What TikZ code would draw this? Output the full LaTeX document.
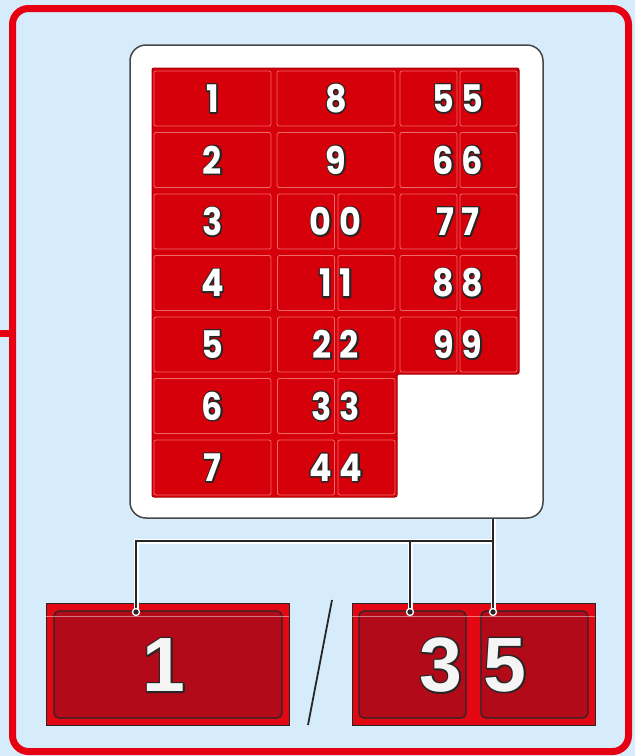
\documentclass[tikz,border=0pt]{standalone}
\usepackage{fontspec}
\newfontfamily\digfont{Poppins}[FakeStretch=0.88]
\newfontfamily\bigfont{Liberation Sans}
\definecolor{bgblue}{HTML}{D6ECFA}
\definecolor{framered}{HTML}{E60012}
\definecolor{cellred}{HTML}{D5000A}
\definecolor{cellline}{HTML}{F26868}
\definecolor{gridline}{HTML}{A8000A}
\definecolor{boxred}{HTML}{E30613}
\definecolor{innerred}{HTML}{B20A18}
\definecolor{inkdark}{HTML}{262626}
\newcommand\olnum[2]{\rlap{\color{inkdark}\special{pdf:literal direct 2 Tr #1 w 1 j}#2\special{pdf:literal direct 0 Tr}}#2}
\begin{document}
\begin{tikzpicture}[x=1pt,y=-1pt,
  panel/.style={draw=inkdark!85, line width=1.5pt, fill=white, rounded corners=16pt, minimum width=413pt, minimum height=473pt, inner sep=0pt},
  cell/.style={draw=cellline, line width=0.8pt, fill=cellred, rounded corners=2pt, minimum height=55pt, inner sep=0pt},
  dig/.style={inner sep=0pt, text=white, font=\digfont\bfseries\fontsize{38}{38}\selectfont},
  outerbox/.style={draw=inkdark, line width=0.8pt, fill=boxred, minimum width=243pt, minimum height=122pt, inner sep=0pt},
  innerbox/.style={draw=inkdark, line width=1.2pt, fill=innerred, rounded corners=5pt, minimum height=107pt, inner sep=0pt},
  bigdig/.style={inner sep=0pt, text=white!96!black, font=\bigfont\bfseries\fontsize{77}{77}\selectfont},
  conn/.style={draw=inkdark, line width=2pt, preaction={draw=white, line width=5pt}},
  dot/.style={circle, fill=inkdark, draw=white, line width=1.3pt, minimum size=7pt, inner sep=0pt}
]
\useasboundingbox (0,0) rectangle (635,756);
\fill[bgblue] (0,0) rectangle (635,756);
% outer frame
\draw[framered, line width=7pt, rounded corners=16pt] (12.5,8.5) rectangle (628.5,751.5);
\draw[framered, line width=7pt] (0,333) -- (12.5,333);
% panel
\node[panel] (panel) at (336.5,281.5) {};
% grid background
\draw[fill=cellred, draw=gridline, line width=1pt, rounded corners=2pt]
  (152,68) -- (519,68) -- (519,374) -- (397,374) -- (397,497) -- (152,497) -- cycle;
% column 1
\foreach \r in {1,...,7}{
  \pgfmathsetmacro{\yc}{98.5+61.5*(\r-1)}
  \node[cell, minimum width=117pt] (a\r) at (212.5,\yc) {};
  \node[dig] (ta\r) at (a\r.center) {\olnum{2.8}{\r}};
}
% column 2 full
\foreach \r/\d in {1/8,2/9}{
  \pgfmathsetmacro{\yc}{98.5+61.5*(\r-1)}
  \node[cell, minimum width=118pt] (b\r) at (336,\yc) {};
  \node[dig] (tb\r) at (b\r.center) {\olnum{2.8}{\d}};
}
% column 2 split
\foreach \r in {3,...,7}{
  \pgfmathsetmacro{\yc}{98.5+61.5*(\r-1)}
  \pgfmathtruncatemacro{\d}{\r-3}
  \node[cell, minimum width=57pt] (b\r l) at (306,\yc) {};
  \node[cell, minimum width=57pt] (b\r r) at (366.5,\yc) {};
  \node[dig, anchor=east] (tb\r l) at ([xshift=-3pt]b\r l.east) {\olnum{2.8}{\d}};
  \node[dig, anchor=west] (tb\r r) at ([xshift=2pt]b\r r.west) {\olnum{2.8}{\d}};
}
% column 3 split
\foreach \r in {1,...,5}{
  \pgfmathsetmacro{\yc}{98.5+61.5*(\r-1)}
  \pgfmathtruncatemacro{\d}{\r+4}
  \node[cell, minimum width=57pt] (c\r l) at (428.5,\yc) {};
  \node[cell, minimum width=57pt] (c\r r) at (488.5,\yc) {};
  \node[dig, anchor=east] (tc\r l) at ([xshift=-3pt]c\r l.east) {\olnum{2.8}{\d}};
  \node[dig, anchor=west] (tc\r r) at ([xshift=2pt]c\r r.west) {\olnum{2.8}{\d}};
}
% bottom boxes
\node[outerbox] (L) at (167.5,664) {};
\node[innerbox, minimum width=228pt] (Li) at (168,664.5) {};
\node[outerbox] (R) at (473.5,664) {};
\node[innerbox, minimum width=107pt] (Ra) at (412.5,664.5) {};
\node[innerbox, minimum width=107pt] (Rb) at (534.5,664.5) {};
\draw[white, opacity=0.45, line width=0.6pt] ([yshift=-14pt]L.north west) -- ([yshift=-14pt]L.north east);
\draw[white, opacity=0.45, line width=0.6pt] ([yshift=-14pt]R.north west) -- ([yshift=-14pt]R.north east);
\node[bigdig] (n1) at (164,665) {\olnum{3.2}{1}};
\node[bigdig, anchor=east] (n3) at ([xshift=-4pt]Ra.east |- 0,665) {\olnum{3.2}{3}};
\node[bigdig, anchor=west] (n5) at ([xshift=3pt]Rb.west |- 0,665) {\olnum{3.2}{5}};
% slash
\coordinate (s1) at (308,725);
\coordinate (s2) at (332,600);
\draw[inkdark, line width=1.8pt] (s1) -- (s2);
% connectors
\coordinate (d1) at (136,612);
\coordinate (d2) at (410,612);
\coordinate (d3) at (493,612);
\coordinate (j) at (493,541);
\draw[conn] (panel.south -| d3) -- (d3) (d1) |- (j) (d2) -- (d2 |- j);
\node[dot] (p1) at (d1) {};
\node[dot] (p2) at (d2) {};
\node[dot] (p3) at (d3) {};
\end{tikzpicture}
\end{document}
